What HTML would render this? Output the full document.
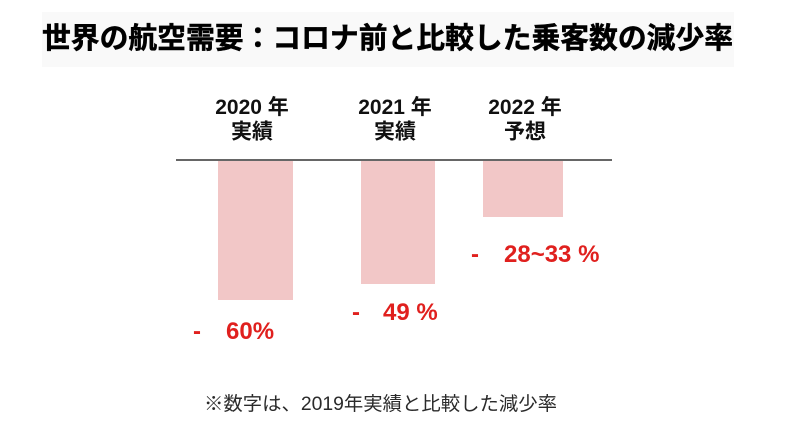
<!DOCTYPE html>
<html>
<head>
<meta charset="utf-8">
<style>
  html, body { margin: 0; padding: 0; background: #ffffff; }
  body { width: 786px; height: 431px; overflow: hidden; }
  svg { display: block; }
  .ttl { font-family: "Liberation Sans", "Noto Sans CJK JP", sans-serif; font-weight: bold; }
  .hdr { font-family: "Liberation Sans", "Noto Sans CJK JP", sans-serif; font-weight: bold; font-size: 21px; fill: #111; }
  .val { font-family: "Liberation Sans", "Noto Sans CJK JP", sans-serif; font-weight: bold; font-size: 24px; fill: #e0201e; }
  .note { font-family: "Liberation Sans", "Noto Sans CJK JP", sans-serif; font-size: 19px; fill: #2a2a2a; }
</style>
</head>
<body>
<svg width="786" height="431" viewBox="0 0 786 431" xmlns="http://www.w3.org/2000/svg">
  <rect x="0" y="0" width="786" height="431" fill="#ffffff"/>
  <!-- title band -->
  <rect x="42" y="12" width="692" height="55" fill="#f9f9f9"/>
  <text class="ttl" x="42" y="48" font-size="29" fill="#000" stroke="#000" stroke-width="0.5" textLength="691" lengthAdjust="spacingAndGlyphs">世界の航空需要：コロナ前と比較した乗客数の減少率</text>

  <!-- column headers -->
  <text class="hdr" x="252" y="114" text-anchor="middle">2020 年</text>
  <text class="hdr" x="252" y="138.5" text-anchor="middle">実績</text>
  <text class="hdr" x="395" y="114" text-anchor="middle">2021 年</text>
  <text class="hdr" x="395" y="138.5" text-anchor="middle">実績</text>
  <text class="hdr" x="525" y="114" text-anchor="middle">2022 年</text>
  <text class="hdr" x="525" y="138.5" text-anchor="middle">予想</text>

  <!-- bars -->
  <rect x="218" y="161" width="75" height="139" fill="#f2c7c7"/>
  <rect x="361" y="161" width="74" height="123" fill="#f2c7c7"/>
  <rect x="483" y="161" width="80" height="56" fill="#f2c7c7"/>

  <!-- axis line -->
  <rect x="176" y="159" width="436" height="2" fill="#666666"/>

  <!-- value labels -->
  <text class="val" x="193" y="339">-</text>
  <text class="val" x="226" y="339">60%</text>
  <text class="val" x="352" y="320">-</text>
  <text class="val" x="383" y="320">49 %</text>
  <text class="val" x="471" y="262">-</text>
  <text class="val" x="504" y="262">28~33 %</text>

  <!-- footnote -->
  <text class="note" x="204" y="410" textLength="353" lengthAdjust="spacingAndGlyphs">※数字は、2019年実績と比較した減少率</text>
</svg>
</body>
</html>
